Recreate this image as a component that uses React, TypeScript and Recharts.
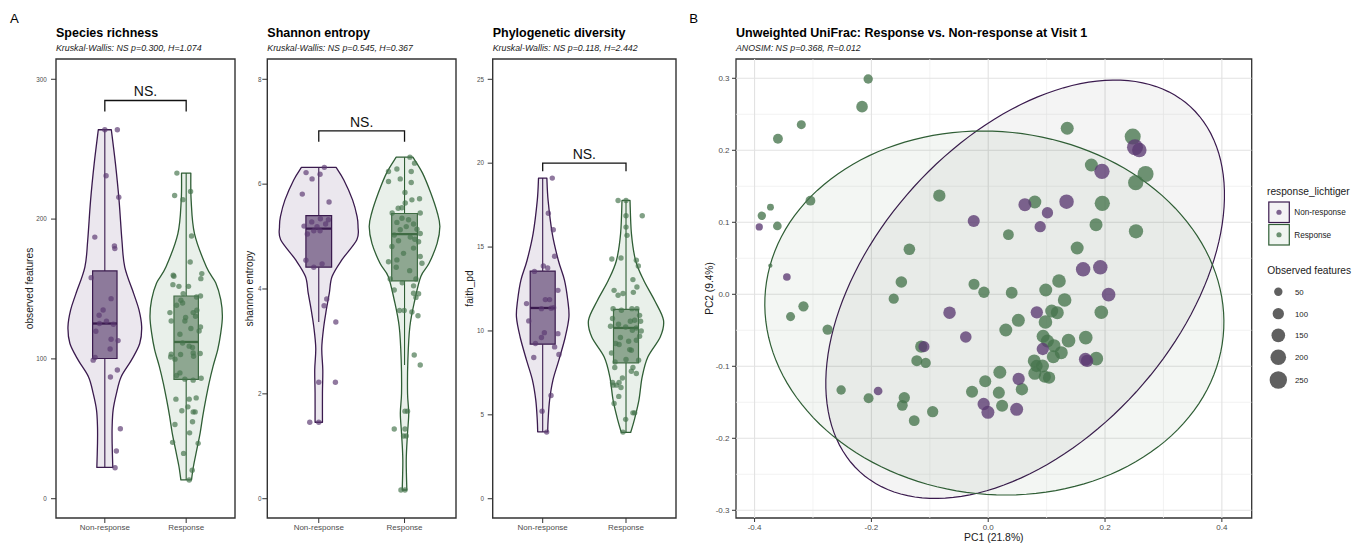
import React from 'react';
import { ComposedChart, Scatter, XAxis, YAxis, ZAxis, ReferenceArea } from 'recharts';

const FONT = '"Liberation Sans", Arial, Helvetica, sans-serif';

// ---------------- shared ----------------
const groups = ['Non-response', 'Response'];
const sigLabel = 'NS.';

// ---------------- Species richness ----------------
const richnessTitle = 'Species richness';
const richnessSubtitle = 'Kruskal-Wallis: NS p=0.300, H=1.074';
const richnessYLabel = 'observed features';
const richnessDomain = [-13.8, 314.5];
const richnessTicks = [0, 100, 200, 300];
const richnessNR = [263.9, 263.9, 231.0, 215.7, 187.1, 180.7, 178.9, 158.1, 143.1, 135.0, 131.2, 126.9, 125.3, 124.8, 119.8, 114.1, 113.1, 107.1, 101.0, 99.1, 92.1, 87.1, 50.0, 34.1, 22.1];
const richnessNRJitter = [0.0, 0.154, 0.016, 0.172, -0.123, 0.118, 0.123, -0.168, 0.077, -0.021, -0.07, 0.02, -0.066, 0.105, -0.11, 0.077, 0.163, 0.065, -0.119, -0.143, 0.154, 0.069, 0.191, 0.142, 0.126];
const richnessR = [232.9, 216.9, 213.9, 219.8, 187.9, 169.3, 159.8, 159.1, 161.0, 157.4, 153.1, 151.9, 151.9, 146.7, 145.0, 144.3, 141.9, 140.0, 138.4, 134.8, 133.1, 133.1, 129.6, 130.5, 127.1, 127.1, 122.9, 121.7, 120.0, 117.6, 111.4, 109.1, 108.1, 103.4, 101.4, 103.1, 104.3, 103.9, 101.9, 99.8, 90.0, 88.1, 85.5, 84.8, 86.2, 71.2, 71.2, 72.1, 65.7, 62.9, 62.1, 62.1, 53.1, 55.0, 47.1, 40.3, 39.6, 32.4, 20.3, 13.4];
const richnessRJitter = [-0.114, -0.142, -0.04, 0.054, 0.066, 0.049, -0.159, -0.151, 0.192, 0.18, -0.163, -0.089, 0.029, -0.037, 0.176, 0.127, -0.065, -0.044, -0.118, 0.131, -0.2, 0.086, -0.007, 0.115, -0.184, -0.016, 0.176, 0.058, 0.159, -0.077, -0.044, 0.037, 0.078, -0.184, -0.191, -0.069, 0.086, 0.172, 0.091, -0.138, -0.077, -0.118, -0.016, 0.086, 0.184, -0.126, 0.037, 0.123, 0.021, -0.053, 0.086, 0.11, -0.138, 0.078, 0.042, -0.167, 0.147, -0.032, 0.074, 0.037];
// violin outline: [value, half width]
const richnessViolinNR = [[263.9, 0.08], [240, 0.13], [213.4, 0.175], [185, 0.21], [165.7, 0.245], [146.7, 0.355], [135, 0.42], [122.9, 0.453], [111, 0.429], [99.1, 0.327], [87.1, 0.2], [75.3, 0.143], [63.4, 0.102], [51.4, 0.09], [39.6, 0.09], [22.4, 0.098]];
const richnessViolinR = [[232.9, 0.057], [213.4, 0.061], [189.6, 0.102], [165.7, 0.249], [154.3, 0.364], [142.4, 0.425], [130.5, 0.445], [118.6, 0.425], [106.7, 0.388], [94.8, 0.331], [82.9, 0.282], [71.0, 0.241], [59.1, 0.204], [47.1, 0.172], [35.2, 0.131], [23.4, 0.09], [13.4, 0.065]];
// [lower whisker, q1, median, q3, upper whisker]
const richnessBoxNR = [22.4, 100.3, 125.3, 162.9, 263.9];
const richnessBoxR = [13.4, 85.3, 112.1, 145.0, 232.9];
const richnessBracket = [277, 284.8];

// ---------------- Shannon entropy ----------------
const shannonTitle = 'Shannon entropy';
const shannonSubtitle = 'Kruskal-Wallis: NS p=0.545, H=0.367';
const shannonYLabel = 'shannon entropy';
const shannonDomain = [-0.368, 8.387];
const shannonTicks = [0, 2, 4, 6, 8];
const shannonNR = [6.32, 6.22, 6.19, 6.10, 5.81, 5.66, 5.34, 5.28, 5.32, 5.20, 5.19, 5.11, 5.11, 5.05, 4.416, 4.48, 3.81, 3.68, 3.37, 2.22, 2.22, 1.458, 1.458, 4.55, 5.24];
const shannonNRJitter = [0.065, -0.148, 0.015, -0.078, -0.192, 0.12, 0.019, -0.082, 0.112, -0.172, -0.02, -0.058, 0.015, -0.133, -0.058, 0.039, 0.093, 0.062, 0.199, 0.0, 0.194, -0.105, 0.0, -0.15, 0.08];
const shannonR = [6.515, 6.40, 6.24, 6.29, 6.24, 6.05, 6.03, 5.84, 5.70, 5.72, 5.64, 5.54, 5.45, 5.45, 5.35, 5.32, 5.27, 5.24, 5.19, 5.14, 5.13, 5.06, 5.03, 4.99, 4.92, 4.90, 4.81, 4.78, 4.68, 4.62, 4.555, 4.52, 4.416, 4.49, 4.19, 4.12, 4.06, 4.19, 3.98, 3.92, 3.91, 3.84, 3.59, 3.59, 3.56, 3.49, 2.74, 2.55, 1.67, 1.67, 1.33, 1.33, 1.197, 1.197, 0.166, 0.166, 4.95, 5.55, 4.35, 6.1];
const shannonRJitter = [0.063, 0.117, -0.187, -0.089, 0.078, -0.187, 0.078, 0.005, 0.086, 0.175, 0.008, -0.074, 0.183, -0.144, -0.03, 0.047, -0.089, 0.105, 0.02, 0.145, -0.05, 0.183, -0.12, 0.067, -0.07, 0.164, -0.147, 0.105, -0.012, 0.183, -0.089, -0.187, -0.097, 0.203, -0.167, -0.027, 0.105, 0.133, -0.12, 0.105, 0.164, 0.133, -0.058, -0.004, 0.086, 0.157, 0.113, 0.183, 0.005, 0.035, -0.12, 0.005, -0.012, 0.02, -0.042, 0.005, 0.12, -0.03, 0.06, -0.05];
const shannonViolinNR = [[6.32, 0.202], [6.08, 0.292], [5.70, 0.394], [5.38, 0.447], [5.19, 0.458], [4.94, 0.444], [4.555, 0.269], [4.237, 0.155], [3.92, 0.123], [3.60, 0.088], [3.28, 0.058], [2.87, 0.035], [2.456, 0.047], [2.01, 0.043], [1.458, 0.043]];
const shannonViolinR = [[6.515, 0.097], [6.21, 0.21], [5.83, 0.306], [5.45, 0.383], [5.19, 0.412], [4.87, 0.38], [4.49, 0.286], [4.24, 0.19], [3.79, 0.12], [3.28, 0.062], [2.65, 0.039], [2.01, 0.035], [1.63, 0.049], [1.25, 0.035], [0.74, 0.02], [0.166, 0.027]];
const shannonBoxNR = [3.37, 4.416, 5.153, 5.40, 6.32];
const shannonBoxR = [2.55, 4.155, 5.045, 5.44, 6.515];
const shannonBracket = [6.81, 7.017];

// ---------------- Phylogenetic diversity ----------------
const faithTitle = 'Phylogenetic diversity';
const faithSubtitle = 'Kruskal-Wallis: NS p=0.118, H=2.442';
const faithYLabel = 'faith_pd';
const faithDomain = [-1.149, 26.21];
const faithTicks = [0, 5, 10, 15, 20, 25];
const faithNR = [19.11, 17.02, 16.03, 14.45, 13.87, 13.75, 13.55, 12.42, 11.87, 11.87, 11.63, 11.33, 11.39, 10.60, 9.90, 9.84, 9.61, 9.25, 9.05, 8.60, 8.42, 6.15, 5.22, 3.97, 11.35];
const faithNRJitter = [0.115, 0.068, 0.127, 0.143, 0.008, 0.06, -0.099, 0.183, 0.032, 0.083, -0.194, -0.015, 0.131, -0.167, 0.02, 0.183, -0.015, -0.087, 0.143, 0.195, -0.107, 0.1, -0.007, 0.048, 0.1];
const faithR = [17.78, 17.78, 16.87, 16.87, 16.19, 15.70, 14.29, 14.35, 14.21, 13.87, 13.06, 12.62, 12.42, 12.13, 12.23, 12.30, 11.33, 11.33, 11.33, 11.23, 10.93, 10.74, 10.58, 10.64, 10.58, 10.40, 10.24, 10.18, 10.28, 10.04, 10.00, 9.68, 9.61, 9.45, 9.25, 9.39, 9.19, 8.89, 8.85, 8.69, 8.30, 8.15, 8.26, 7.82, 7.82, 7.60, 7.46, 7.20, 6.93, 6.93, 6.77, 6.77, 6.63, 6.10, 5.68, 5.12, 5.12, 4.73, 3.97];
const faithRJitter = [-0.095, 0, 0.195, 0, 0, 0.012, -0.17, -0.06, 0.124, 0.148, 0.083, 0.131, -0.143, -0.095, -0.036, 0.088, 0.071, 0.131, -0.155, -0.055, 0.163, -0.162, 0.052, 0.104, 0.175, -0.09, -0.004, 0.124, -0.186, 0.076, 0.183, 0.163, -0.067, 0.124, -0.123, 0.032, -0.083, 0.044, 0.064, -0.174, 0, -0.131, 0.151, -0.135, 0.083, 0.064, 0.124, -0.043, -0.083, -0.162, -0.114, -0.155, -0.06, -0.087, -0.143, 0.083, 0.104, -0.004, -0.036];
const faithViolinNR = [[19.11, 0.05], [17.78, 0.065], [15.80, 0.115], [14.2, 0.188], [13.02, 0.262], [11.83, 0.301], [10.83, 0.315], [9.64, 0.271], [8.26, 0.194], [7.07, 0.123], [5.875, 0.083], [4.685, 0.065], [3.99, 0.06]];
const faithViolinR = [[17.78, 0.048], [15.80, 0.065], [14.2, 0.115], [13.02, 0.212], [11.83, 0.342], [10.64, 0.45], [9.64, 0.411], [8.45, 0.262], [7.26, 0.194], [5.875, 0.155], [4.685, 0.099], [3.95, 0.056]];
const faithBoxNR = [3.99, 9.21, 11.37, 13.57, 19.11];
const faithBoxR = [3.95, 8.10, 10.18, 11.29, 17.78];
const faithBracket = [19.52, 20.0];

// ---------------- PCoA (Unweighted UniFrac) ----------------
const pcoaTitle = 'Unweighted UniFrac: Response vs. Non-response at Visit 1';
const pcoaSubtitle = 'ANOSIM: NS p=0.368, R=0.012';
const pcoaXLabel = 'PC1 (21.8%)';
const pcoaYLabel = 'PC2 (9.4%)';
const pcoaXDomain = [-0.4318, 0.4511];
const pcoaYDomain = [-0.3107, 0.3268];
const pcoaXTicks = [-0.4, -0.2, 0, 0.2, 0.4];
const pcoaYTicks = [-0.3, -0.2, -0.1, 0, 0.1, 0.2, 0.3];
const pcoaXMinor = [-0.3, -0.1, 0.1, 0.3];
const pcoaYMinor = [-0.25, -0.15, -0.05, 0.05, 0.15, 0.25];
// [PC1, PC2, observed features]
const pcoaNR = [
  [-0.392, 0.0935, 35], [-0.0248, 0.1018, 115], [-0.3447, 0.024, 40], [-0.0662, -0.0255, 125], [-0.0384, -0.0593, 105],
  [-0.110, -0.0727, 95], [-0.1885, -0.1343, 55], [0.2513, 0.2042, 210], [0.2587, 0.2004, 170], [0.1947, 0.1708, 190],
  [0.0628, 0.1245, 135], [0.1014, 0.1133, 100], [0.1341, 0.1286, 170], [0.089, 0.0939, 100], [0.1625, 0.0347, 170],
  [0.1919, 0.0375, 170], [0.2061, -0.0005, 150], [0.0832, -0.025, 120], [0.0934, -0.076, 120], [0.1664, -0.0903, 135],
  [0.1693, -0.0926, 120], [0.0521, -0.1176, 120], [-0.0078, -0.1524, 120], [-0.0005, -0.1639, 135], [0.0487, -0.1597, 135],
];
const pcoaR = [
  [-0.2055, 0.299, 65], [-0.216, 0.2606, 106], [-0.320, 0.2356, 60], [-0.360, 0.216, 73], [-0.3044, 0.130, 73],
  [-0.3876, 0.109, 50], [-0.3728, 0.121, 30], [-0.361, 0.0949, 55], [-0.0837, 0.137, 120], [-0.135, 0.0625, 105],
  [-0.373, 0.0397, 5], [-0.1487, 0.0171, 105], [-0.0243, 0.0139, 95], [-0.3163, -0.0167, 80], [-0.3384, -0.031, 60],
  [-0.1618, -0.0061, 80], [-0.275, -0.049, 80], [-0.1148, -0.0727, 115], [-0.1222, -0.0922, 95], [-0.107, -0.0954, 80],
  [-0.2518, -0.1329, 65], [-0.2048, -0.1444, 75], [-0.1437, -0.1436, 100], [-0.147, -0.1542, 90], [-0.0951, -0.163, 100],
  [-0.1267, -0.1755, 90], [-0.0277, -0.1353, 115], [0.1353, 0.2306, 135], [0.2474, 0.219, 210], [0.1766, 0.1796, 135],
  [0.2694, 0.1671, 210], [0.2525, 0.155, 190], [0.0798, 0.1282, 135], [0.1953, 0.1264, 190], [0.0346, 0.0828, 90],
  [0.1846, 0.0967, 135], [0.253, 0.0875, 165], [0.1523, 0.0643, 135], [-0.0073, 0.0028, 100], [0.0402, 0.0022, 110],
  [0.0985, 0.006, 135], [0.1212, 0.0185, 150], [0.1308, -0.0079, 150], [0.1087, -0.0232, 135], [0.1183, -0.0255, 135],
  [0.1936, -0.025, 150], [0.0516, -0.0361, 135], [0.098, -0.0385, 150], [0.0301, -0.0496, 135], [0.094, -0.0583, 135],
  [0.1014, -0.0649, 135], [0.1375, -0.0644, 150], [0.167, -0.0602, 150], [0.1127, -0.0713, 135], [0.1251, -0.0811, 135],
  [0.1115, -0.0866, 135], [0.1851, -0.0894, 150], [0.0788, -0.0926, 135], [0.0929, -0.0996, 135], [0.0827, -0.0996, 120],
  [0.0798, -0.1097, 135], [0.0968, -0.1144, 120], [0.1042, -0.1158, 120], [0.0199, -0.1083, 135], [-0.0051, -0.1208, 115],
  [0.0577, -0.1319, 120], [0.0182, -0.1366, 115], [0.0238, -0.1547, 115],
];
// 95% ellipses: centre and the two semi-axis vectors (PC1, PC2 units)
const ellipseNR = { center: [0.0632, 0.007], u: [0.2833, 0.2533], v: [0.1903, -0.1424] };
const ellipseR = { center: [0.0105, -0.026], u: [0.3918, -0.0323], v: [-0.03085, -0.2507] };
const legendTitleGroup = 'response_lichtiger';
const legendTitleSize = 'Observed features';
const legendSizes = [50, 100, 150, 200, 250];
const sizeDomain = [0, 300];
const sizeAreaRange = [9.7, 283.1];

// ---------------- styles ----------------
const NR = { line: '#3a1a4e', violin: '#ebe7ee', box: '#8d7a9b', boxLine: '#3a1a4e', point: '#5b3a72' };
const RC = { line: '#2f5e35', violin: '#e9f0ea', box: '#8ea791', boxLine: '#3f6b43', point: '#46754d' };
const COLS = [NR, RC];

type P = { x: number; y: number };

const crPath = (pts: P[]) => {
  let d = '';
  for (let i = 0; i < pts.length - 1; i++) {
    const p0 = pts[i - 1] || pts[i];
    const p1 = pts[i];
    const p2 = pts[i + 1];
    const p3 = pts[i + 2] || p2;
    const c1x = p1.x + (p2.x - p0.x) / 6;
    const c1y = p1.y + (p2.y - p0.y) / 6;
    const c2x = p2.x - (p3.x - p1.x) / 6;
    const c2y = p2.y - (p3.y - p1.y) / 6;
    d += ` C${c1x},${c1y} ${c2x},${c2y} ${p2.x},${p2.y}`;
  }
  return d;
};

const lineRenderer = (style: any, mode: 'closed' | 'open' | 'pairs' | 'violin') => (props: any) => {
  const pts: P[] = (props && props.points) || [];
  if (!pts.length) return <g />;
  let d = '';
  if (mode === 'pairs') {
    for (let i = 0; i + 1 < pts.length; i += 2) d += `M${pts[i].x},${pts[i].y} L${pts[i + 1].x},${pts[i + 1].y} `;
  } else if (mode === 'violin') {
    const n = pts.length / 2;
    const right = pts.slice(0, n);
    const left = pts.slice(n);
    d = `M${right[0].x},${right[0].y}${crPath(right)} L${left[0].x},${left[0].y}${crPath(left)} Z`;
  } else {
    d = pts.map((p, i) => `${i ? 'L' : 'M'}${p.x},${p.y}`).join(' ') + (mode === 'closed' ? ' Z' : '');
  }
  return <path d={d} {...style} />;
};

const noShape = () => <g />;

const violinPolygon = (c: number, prof: number[][]) => [
  ...prof.map(([v, w]) => ({ x: c + w, y: v })),
  ...prof.slice().reverse().map(([v, w]) => ({ x: c - w, y: v })),
];

const ellipsePoints = (e: any) =>
  Array.from({ length: 145 }, (_, i) => {
    const t = (i / 144) * 2 * Math.PI;
    return {
      x: e.center[0] + Math.cos(t) * e.u[0] + Math.sin(t) * e.v[0],
      y: e.center[1] + Math.cos(t) * e.u[1] + Math.sin(t) * e.v[1],
    };
  });

const panels = [
  { left: 0, width: 240, ml: 26, mr: 5, yw: 30, tm: 4.3, domain: richnessDomain, ticks: richnessTicks, violins: [richnessViolinNR, richnessViolinR], boxes: [richnessBoxNR, richnessBoxR], values: [richnessNR, richnessR], jitter: [richnessNRJitter, richnessRJitter], bracket: richnessBracket },
  { left: 240, width: 220, ml: 7.3, mr: 4, yw: 20, tm: 0.8, domain: shannonDomain, ticks: shannonTicks, violins: [shannonViolinNR, shannonViolinR], boxes: [shannonBoxNR, shannonBoxR], values: [shannonNR, shannonR], jitter: [shannonNRJitter, shannonRJitter], bracket: shannonBracket },
  { left: 460, width: 220, ml: 7.7, mr: 4, yw: 25, tm: 3.7, domain: faithDomain, ticks: faithTicks, violins: [faithViolinNR, faithViolinR], boxes: [faithBoxNR, faithBoxR], values: [faithNR, faithR], jitter: [faithNRJitter, faithRJitter], bracket: faithBracket },
];

const BOX_HW = 0.15;

function ViolinPanel({ p }: { p: any }) {
  const [lo, hi] = p.domain;
  return (
    <div style={{ position: 'absolute', left: p.left, top: 0 }}>
      <ComposedChart width={p.width} height={543} margin={{ top: 59, right: p.mr, bottom: 0, left: p.ml }}>
        <XAxis
          type="number" dataKey="x" domain={[0.4, 2.6]} ticks={[1, 2]} allowDataOverflow interval={0}
          tickFormatter={(v: number) => groups[Math.round(v) - 1]}
          height={25} axisLine={false} tickLine={{ stroke: '#333', strokeWidth: 1 }} tickSize={5} tickMargin={1.3}
          tick={{ fontSize: 8, fill: '#4d4d4d', fontFamily: FONT }}
        />
        <YAxis
          type="number" dataKey="y" domain={[lo, hi]} ticks={p.ticks} allowDataOverflow interval={0}
          width={p.yw} axisLine={false} tickLine={{ stroke: '#333', strokeWidth: 1 }} tickSize={5} tickMargin={p.tm}
          tick={{ fontSize: 6.3, fill: '#4d4d4d', fontFamily: FONT }}
        />
        {p.violins.map((prof: number[][], i: number) => (
          <Scatter key={'v' + i} data={violinPolygon(i + 1, prof)} shape={noShape} isAnimationActive={false}
            line={lineRenderer({ fill: COLS[i].violin, stroke: COLS[i].line, strokeWidth: 1.3, strokeLinejoin: 'round' }, 'violin')} lineType="joint" />
        ))}
        {p.boxes.map((b: number[], i: number) => (
          <Scatter key={'w' + i} data={[{ x: i + 1, y: b[3] }, { x: i + 1, y: b[4] }, { x: i + 1, y: b[0] }, { x: i + 1, y: b[1] }]}
            shape={noShape} isAnimationActive={false}
            line={lineRenderer({ fill: 'none', stroke: COLS[i].line, strokeWidth: 1.1 }, 'pairs')} lineType="joint" />
        ))}
        {p.boxes.map((b: number[], i: number) => (
          <Scatter key={'b' + i}
            data={[{ x: i + 1 - BOX_HW, y: b[1] }, { x: i + 1 + BOX_HW, y: b[1] }, { x: i + 1 + BOX_HW, y: b[3] }, { x: i + 1 - BOX_HW, y: b[3] }]}
            shape={noShape} isAnimationActive={false}
            line={lineRenderer({ fill: COLS[i].box, stroke: COLS[i].boxLine, strokeWidth: 1.2 }, 'closed')} lineType="joint" />
        ))}
        {p.boxes.map((b: number[], i: number) => (
          <Scatter key={'m' + i} data={[{ x: i + 1 - BOX_HW, y: b[2] }, { x: i + 1 + BOX_HW, y: b[2] }]}
            shape={noShape} isAnimationActive={false}
            line={lineRenderer({ fill: 'none', stroke: COLS[i].boxLine, strokeWidth: 2.3 }, 'pairs')} lineType="joint" />
        ))}
        {p.values.map((vals: number[], i: number) => (
          <Scatter key={'p' + i} data={vals.map((v, k) => ({ x: i + 1 + (p.jitter[i][k] ?? 0), y: v }))}
            isAnimationActive={false}
            shape={(s: any) => <circle cx={s.cx} cy={s.cy} r={2.7} fill={COLS[i].point} fillOpacity={0.68} />} />
        ))}
        <Scatter data={[{ x: 1, y: p.bracket[0] }, { x: 1, y: p.bracket[1] }, { x: 2, y: p.bracket[1] }, { x: 2, y: p.bracket[0] }]}
          shape={noShape} isAnimationActive={false}
          line={lineRenderer({ fill: 'none', stroke: '#111', strokeWidth: 1.3 }, 'open')} lineType="joint" />
        <Scatter data={[{ x: 1.5, y: p.bracket[1] }]} isAnimationActive={false}
          shape={(s: any) => (
            <text x={s.cx} y={s.cy - 4.3} textAnchor="middle" fontSize={14} fill="#111" fontFamily={FONT}>{sigLabel}</text>
          )} />
        <ReferenceArea x1={0.4} x2={2.6} y1={lo} y2={hi} fill="none" fillOpacity={0} stroke="#333" strokeWidth={1.4} ifOverflow="visible" />
      </ComposedChart>
    </div>
  );
}

const fmt1 = (v: number) => v.toFixed(1);

function PcoaPanel() {
  const [x0, x1] = pcoaXDomain;
  const [y0, y1] = pcoaYDomain;
  const vMinor = pcoaXMinor.flatMap((x) => [{ x, y: y0 }, { x, y: y1 }]);
  const hMinor = pcoaYMinor.flatMap((y) => [{ x: x0, y }, { x: x1, y }]);
  const vMajor = pcoaXTicks.flatMap((x) => [{ x, y: y0 }, { x, y: y1 }]);
  const hMajor = pcoaYTicks.flatMap((y) => [{ x: x0, y }, { x: x1, y }]);
  const toPts = (arr: number[][]) => arr.map(([x, y, z]) => ({ x, y, z }));
  return (
    <div style={{ position: 'absolute', left: 690, top: 0 }}>
      <ComposedChart width={570} height={543} margin={{ top: 59, right: 8.3, bottom: 0, left: 16 }}>
        <XAxis
          type="number" dataKey="x" domain={[x0, x1]} ticks={pcoaXTicks} allowDataOverflow interval={0} tickFormatter={fmt1}
          height={25} axisLine={false} tickLine={{ stroke: '#333', strokeWidth: 1 }} tickSize={4} tickMargin={2.3}
          tick={{ fontSize: 8, fill: '#4d4d4d', fontFamily: FONT }}
        />
        <YAxis
          type="number" dataKey="y" domain={[y0, y1]} ticks={pcoaYTicks} allowDataOverflow interval={0} tickFormatter={fmt1}
          width={30} axisLine={false} tickLine={{ stroke: '#333', strokeWidth: 1 }} tickSize={4} tickMargin={2.5}
          tick={{ fontSize: 8, fill: '#4d4d4d', fontFamily: FONT }}
        />
        <ZAxis type="number" dataKey="z" domain={sizeDomain} range={sizeAreaRange} />
        <Scatter data={[...vMinor, ...hMinor]} shape={noShape} isAnimationActive={false}
          line={lineRenderer({ fill: 'none', stroke: '#f0f0f0', strokeWidth: 0.8 }, 'pairs')} lineType="joint" />
        <Scatter data={[...vMajor, ...hMajor]} shape={noShape} isAnimationActive={false}
          line={lineRenderer({ fill: 'none', stroke: '#e2e2e2', strokeWidth: 1.1 }, 'pairs')} lineType="joint" />
        <Scatter data={ellipsePoints(ellipseNR)} shape={noShape} isAnimationActive={false}
          line={lineRenderer({ fill: '#000', fillOpacity: 0.045, stroke: NR.line, strokeWidth: 1.2 }, 'closed')} lineType="joint" />
        <Scatter data={ellipsePoints(ellipseR)} shape={noShape} isAnimationActive={false}
          line={lineRenderer({ fill: '#2f6b38', fillOpacity: 0.06, stroke: RC.line, strokeWidth: 1.2 }, 'closed')} lineType="joint" />
        <Scatter data={toPts(pcoaR)} shape="circle" fill={RC.point} fillOpacity={0.78} isAnimationActive={false} />
        <Scatter data={toPts(pcoaNR)} shape="circle" fill={NR.point} fillOpacity={0.78} isAnimationActive={false} />
        <ReferenceArea x1={x0} x2={x1} y1={y0} y2={y1} fill="none" fillOpacity={0} stroke="#333" strokeWidth={1.3} ifOverflow="visible" />
      </ComposedChart>
    </div>
  );
}

const legendRadius = (v: number) => {
  const a = sizeAreaRange[0] + ((v - sizeDomain[0]) / (sizeDomain[1] - sizeDomain[0])) * (sizeAreaRange[1] - sizeAreaRange[0]);
  return Math.sqrt(a / Math.PI);
};

function Overlay() {
  const titles = [
    { x: 56, t: richnessTitle, s: richnessSubtitle },
    { x: 267.3, t: shannonTitle, s: shannonSubtitle },
    { x: 492.7, t: faithTitle, s: faithSubtitle },
    { x: 736, t: pcoaTitle, s: pcoaSubtitle },
  ];
  const yTitles = [
    { x: 33.3, t: richnessYLabel },
    { x: 252.5, t: shannonYLabel },
    { x: 473, t: faithYLabel },
    { x: 713, t: pcoaYLabel },
  ];
  const sizeYs = [291.7, 313.7, 335.3, 357.3, 380];
  return (
    <svg width={1365} height={543} style={{ position: 'absolute', left: 0, top: 0, pointerEvents: 'none' }} fontFamily={FONT}>
      <text x={10} y={22.7} fontSize={13.2} fill="#000">A</text>
      <text x={689.3} y={22.7} fontSize={13.2} fill="#000">B</text>
      {titles.map((d) => (
        <g key={d.t}>
          <text x={d.x} y={36.8} fontSize={12.5} fontWeight="bold" fill="#000">{d.t}</text>
          <text x={d.x} y={51} fontSize={8.8} fontStyle="italic" fill="#1a1a1a">{d.s}</text>
        </g>
      ))}
      {yTitles.map((d) => (
        <text key={d.t} transform={`translate(${d.x},288.5) rotate(-90)`} textAnchor="middle" fontSize={10.2} fill="#1a1a1a">{d.t}</text>
      ))}
      <text x={993.85} y={541.3} textAnchor="middle" fontSize={10.4} fill="#1a1a1a">{pcoaXLabel}</text>
      {/* legend: groups */}
      <text x={1267} y={195} fontSize={10.2} fill="#1a1a1a">{legendTitleGroup}</text>
      {groups.map((g, i) => {
        const top = i === 0 ? 202 : 224.5;
        const c = COLS[i];
        return (
          <g key={g}>
            <rect x={1268.8} y={top} width={20.5} height={20.5} fill={i === 0 ? '#f3f2f4' : '#f0f5f1'} stroke={c.line} strokeWidth={1.2} />
            <circle cx={1279} cy={top + 10.25} r={2.6} fill={c.point} fillOpacity={0.78} />
            <text x={1294.3} y={top + 13.2} fontSize={8.2} fill="#1a1a1a">{g}</text>
          </g>
        );
      })}
      <text x={1267.3} y={274.3} fontSize={10.2} fill="#1a1a1a">{legendTitleSize}</text>
      {legendSizes.map((v, i) => (
        <g key={v}>
          <circle cx={1278.3} cy={sizeYs[i]} r={legendRadius(v)} fill="#333" fillOpacity={0.78} />
          <text x={1295} y={sizeYs[i] + 2.8} fontSize={7.8} fill="#1a1a1a">{v}</text>
        </g>
      ))}
    </svg>
  );
}

export default function App() {
  return (
    <div style={{ position: 'absolute', left: 0, top: 0, width: 1365, height: 543, background: '#fff', overflow: 'hidden' }}>
      {panels.map((p, i) => <ViolinPanel key={i} p={p} />)}
      <PcoaPanel />
      <Overlay />
    </div>
  );
}
